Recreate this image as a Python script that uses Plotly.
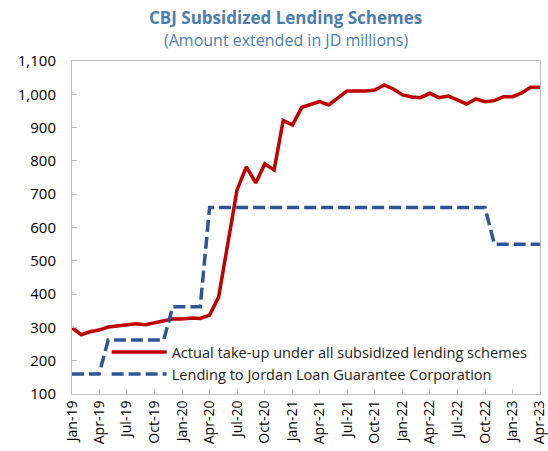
import pandas as pd
import plotly.graph_objects as go

months = pd.date_range("2019-01-01", "2023-04-01", freq="MS")

actual_takeup = [299, 278, 287, 292, 301, 304, 309, 311, 308, 314, 321, 325, 325, 328, 327, 337,
                 391, 550, 713, 782, 734, 791, 773, 921, 908, 961, 970, 978, 968, 990,
                 1010, 1010, 1010, 1013, 1028, 1016, 998, 992, 990, 1003, 990, 995, 983,
                 971, 986, 978, 981, 993, 993, 1005, 1021, 1021]

jlgc_lending = [160, 160, 160, 160, 262, 262, 262, 262, 262, 262, 262, 362, 362, 362, 362,
                660, 660, 660, 660, 660, 660, 660, 660, 660, 660, 660, 660, 660, 660, 660,
                660, 660, 660, 660, 660, 660, 660, 660, 660, 660, 660, 660, 660, 660, 660,
                660, 550, 550, 550, 550, 550, 550]

names = ["Actual take-up under all subsidized lending schemes",
         "Lending to Jordan Loan Guarantee Corporation"]

tick_months = months[::3]
tick_labels = [d.strftime("%b-%y") for d in tick_months]

W, H = 548, 451
ML, MR, MT, MB = 72, 8, 61, 57
PW, PH = W - ML - MR, H - MT - MB

fig = go.Figure()
fig.add_trace(go.Scatter(x=months, y=actual_takeup, mode="lines", name=names[0],
                         line=dict(color="#C00000", width=3.5)))
fig.add_trace(go.Scatter(x=months, y=jlgc_lending, mode="lines", name=names[1],
                         line=dict(color="#2F5597", width=3.5, dash="12px,5px")))

title_color = "#4A7EB0"
fig.update_layout(
    width=W, height=H,
    margin=dict(l=ML, r=MR, t=MT, b=MB),
    paper_bgcolor="white", plot_bgcolor="white",
    font=dict(family="Open Sans, Noto Sans, sans-serif", color="#000000"),
    showlegend=True,
    legend=dict(x=0.074, y=0.012, xanchor="left", yanchor="bottom",
                bgcolor="rgba(0,0,0,0)", font=dict(size=14.6, color="#222222"),
                itemwidth=55, tracegroupgap=0),
    annotations=[
        dict(text="<b>CBJ Subsidized Lending Schemes</b>",
             x=(285 - ML) / PW, y=(H - 18 - MB) / PH,
             xref="paper", yref="paper", xanchor="center", yanchor="middle",
             showarrow=False, font=dict(size=17, color=title_color)),
        dict(text="(Amount extended in JD millions)",
             x=(286 - ML) / PW, y=(H - 40 - MB) / PH,
             xref="paper", yref="paper", xanchor="center", yanchor="middle",
             showarrow=False, font=dict(size=16, color=title_color)),
    ],
)

x_end = months[-1] + pd.Timedelta(hours=6)
fig.update_xaxes(
    range=[months[0], x_end], tickvals=tick_months, ticktext=tick_labels,
    tickangle=-90, tickfont=dict(size=14), automargin=False, ticklabeloverflow="allow",
    showline=True, linecolor="#BFBFBF", linewidth=1, mirror=True,
    ticks="inside", ticklen=5, tickcolor="#BFBFBF", showgrid=False, zeroline=False,
)
fig.update_yaxes(
    range=[100, 1100], dtick=100, tickformat=",", tickfont=dict(size=15), automargin=False,
    showline=True, linecolor="#BFBFBF", linewidth=1, mirror=True,
    ticks="inside", ticklen=5, tickcolor="#BFBFBF", showgrid=False, zeroline=False,
    ticklabelstandoff=12,
)

fig.write_html("out.html", config={"displayModeBar": False},
               post_script="document.body.style.margin='0px';")
